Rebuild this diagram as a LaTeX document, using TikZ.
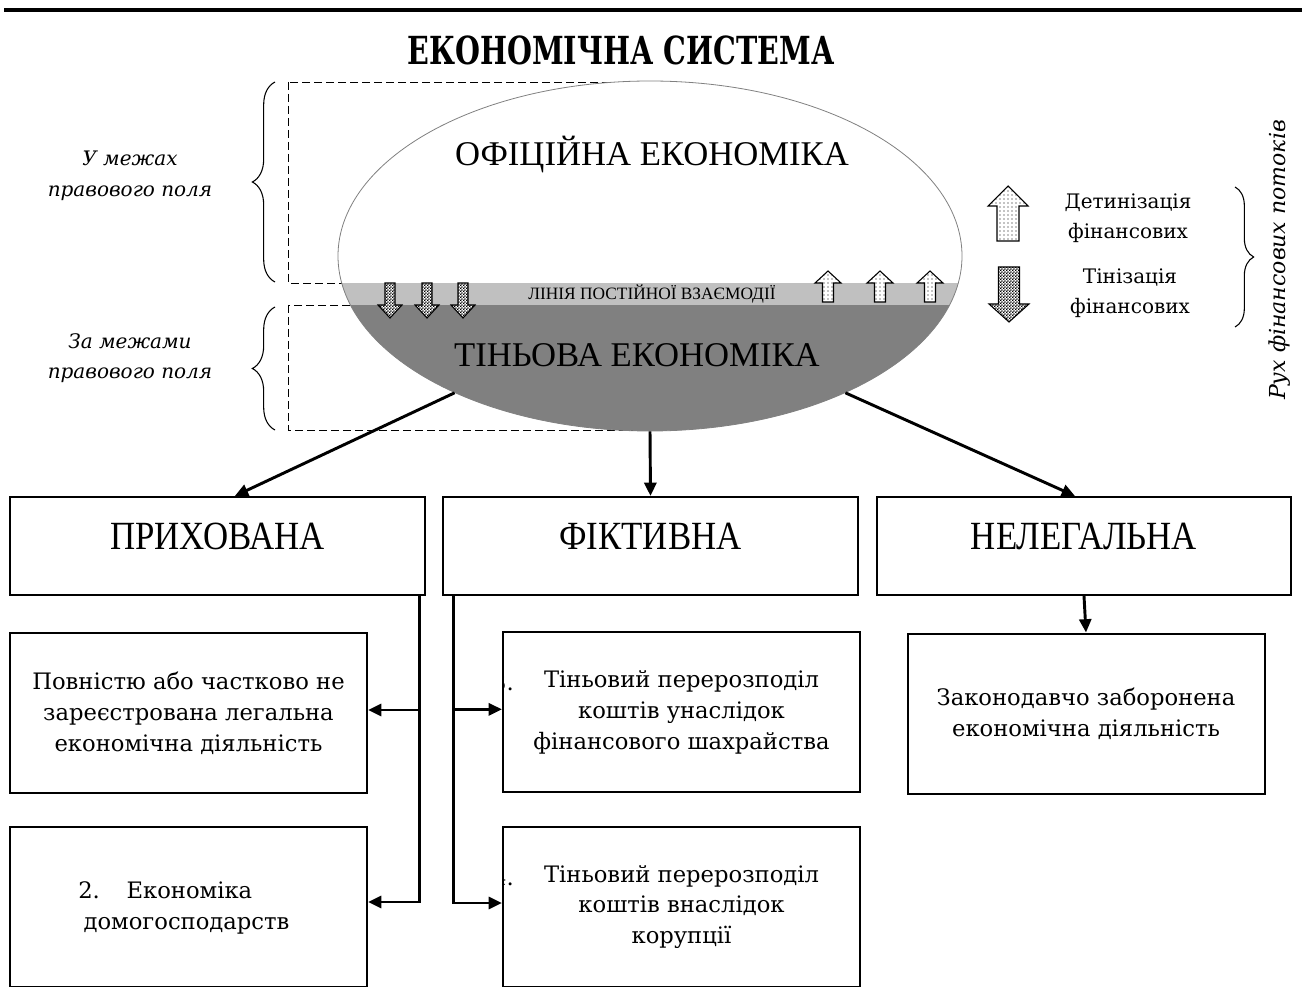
\documentclass[tikz,border=0pt]{standalone}
\usepackage{fontspec}
\usepackage{graphicx}
\setmainfont{DejaVu Serif}
\newfontfamily\timesfont{Liberation Serif}
\usetikzlibrary{shapes.geometric,arrows.meta,decorations.pathreplacing,patterns,positioning}

% block arrow: style, x, base y, half shaft, half head, length, head length
\newcommand{\flowarrow}[7]{%
  \draw[#1] ({#2-#4},#3) -- ({#2-#4},{#3-(#6)+(#7)}) -- ({#2-#5},{#3-(#6)+(#7)})
    -- (#2,{#3-(#6)}) -- ({#2+#5},{#3-(#6)+(#7)}) -- ({#2+#4},{#3-(#6)+(#7)})
    -- ({#2+#4},#3) -- cycle;}
\newcommand{\narrowtxt}[1]{\scalebox{0.87}[1]{#1}}

% fine checker for the shadowing arrows
\pgfdeclarepatternformonly{finecheck}{\pgfqpoint{0pt}{0pt}}{\pgfqpoint{2.4pt}{2.4pt}}{\pgfqpoint{2.4pt}{2.4pt}}{%
  \pgfpathrectangle{\pgfqpoint{0pt}{0pt}}{\pgfqpoint{1.2pt}{1.2pt}}%
  \pgfpathrectangle{\pgfqpoint{1.2pt}{1.2pt}}{\pgfqpoint{1.2pt}{1.2pt}}%
  \pgfusepath{fill}}

\definecolor{bandgray}{HTML}{C0C0C0}
\definecolor{shadegray}{HTML}{808080}

\tikzset{
  conn/.style={line width=2.2pt, -{Triangle[length=10pt,width=9pt]}},
  catbox/.style={draw, line width=1.5pt, minimum width=311pt, minimum height=73.5pt,
    inner sep=0pt, text depth=14pt, font=\timesfont\fontsize{30}{33}\selectfont},
  detbox/.style={draw, line width=1.5pt, minimum width=267.75pt, minimum height=120pt,
    inner sep=2pt, align=center, font=\fontsize{17}{23.2}\selectfont},
  dashbox/.style={draw, line width=0.7pt, dash pattern=on 6pt off 3pt},
  sidebrace/.style={decorate, decoration={brace, amplitude=17pt}, line width=0.8pt},
  upfill/.style={draw=black, line width=0.8pt, preaction={fill=white}, pattern=dots},
  dnfill/.style={draw=black, line width=0.8pt, preaction={fill=white}, pattern=finecheck},
  sidelabel/.style={align=center, font=\itshape\fontsize{15}{22.9}\selectfont},
}

\begin{document}
\begin{tikzpicture}[x=0.75pt,y=-0.75pt]
\useasboundingbox (0,0) rectangle (1302,987);

% top rule and title
\draw[line width=3pt] (4,10) -- (1302,10);
\node (title) at (621,50) {\fontsize{29}{32}\selectfont\bfseries\scalebox{0.74}[1]{ЕКОНОМІЧНА СИСТЕМА}};

% dashed frames behind the ellipse
\draw[dashbox] (288,82) rectangle (650,283);
\draw[dashbox] (288,305) rectangle (650,430);

% ellipse with three bands
\begin{scope}
  \clip (650,256) ellipse [x radius=312, y radius=175];
  \fill[white] (330,70) rectangle (970,283);
  \fill[bandgray] (330,283) rectangle (970,305);
  \fill[shadegray] (330,305) rectangle (970,440);
\end{scope}
\node[ellipse, draw=gray, line width=0.6pt, minimum width=468pt, minimum height=262.5pt, inner sep=0pt] (eco) at (650,256) {};
\node[font=\timesfont\fontsize{26}{28}\selectfont] (ofic) at (652,155) {ОФІЦІЙНА ЕКОНОМІКА};
\node[font=\timesfont\fontsize{26}{28}\selectfont] (shad) at (637,355) {ТІНЬОВА ЕКОНОМІКА};
\node[font=\timesfont\fontsize{13}{15}\selectfont] (line) at (652,294) {ЛІНІЯ ПОСТІЙНОЇ ВЗАЄМОДІЇ};

% flows across the line
\foreach \ax in {390,427,463} {\flowarrow{dnfill}{\ax}{283}{5}{12}{-35}{-13}}
\foreach \ax in {828,880,930} {\flowarrow{upfill}{\ax}{302}{5.5}{13}{31}{12}}

% legend
\flowarrow{upfill}{1008}{241}{11}{20}{55}{20}
\flowarrow{dnfill}{1009}{267}{10.5}{20}{-55}{-18}
\node[align=center, font=\fontsize{15}{22.9}\selectfont] (det) at (1128,218) {Детинізація\\фінансових};
\node[align=center, font=\fontsize{15}{22.9}\selectfont] (tin) at (1130,293) {Тінізація\\фінансових};
\draw[sidebrace, decoration={amplitude=14pt}] (1235,187) -- (1235,327);
\node[rotate=90, font=\itshape\fontsize{16.5}{19}\selectfont] (flow) at (1280,260) {Рух фінансових потоків};

% legal field labels
\draw[sidebrace] (275,282) -- (275,82);
\draw[sidebrace] (275,430) -- (275,307);
\node[sidelabel] (inlaw) at (130,176) {У межах\\правового поля};
\node[sidelabel] (outlaw) at (130,358) {За межами\\правового поля};

% forms of shadow economy
\node[catbox] (hid) at (217.5,546) {\narrowtxt{ПРИХОВАНА}};
\node[catbox] (fict) at (650.5,546) {\narrowtxt{ФІКТИВНА}};
\node[catbox] (illeg) at (1084,546) {\narrowtxt{НЕЛЕГАЛЬНА}};

\draw[conn] (eco.215) -- ([xshift=13pt]hid.north);
\draw[conn] (eco.south) -- (fict.north);
\draw[conn] (eco.325) -- ([xshift=-6.75pt]illeg.north);

% details
\node[detbox] (d1) at (188.5,713) {Повністю або частково не\\зареєстрована легальна\\економічна діяльність};
\node[detbox] (d2) at (188.5,907) {};
\node[align=left, anchor=west, inner sep=0pt, font=\fontsize{17}{23.2}\selectfont] (d2txt) at (78,908)
  {2.\hspace{20pt}Економіка\\\hspace*{4pt}домогосподарств};
\node[detbox] (d3) at (681.5,712) {Тіньовий перерозподіл\\коштів унаслідок\\фінансового шахрайства};
\node[detbox] (d4) at (681.5,907) {Тіньовий перерозподіл\\коштів внаслідок\\корупції};
\node[detbox] (d5) at (1086,713.5) {Законодавчо заборонена\\економічна діяльність};
\begin{scope}
  \clip (d3.south west) rectangle (d3.north east);
  \node[anchor=base east, inner sep=0pt, font=\fontsize{17}{23.2}\selectfont] (n3) at (514,690) {3.};
\end{scope}
\begin{scope}
  \clip (d4.south west) rectangle (d4.north east);
  \node[anchor=base east, inner sep=0pt, font=\fontsize{17}{23.2}\selectfont] (n4) at (514,885) {4.};
\end{scope}

\draw[conn] ([xshift=-4.5pt]hid.south east) |- ([yshift=2.25pt]d1.east);
\draw[conn] ([xshift=-4.5pt]hid.south east) |- ([yshift=3.75pt]d2.east);
\draw[conn] ([xshift=8.25pt]fict.south west) |- ([yshift=2pt]d3.west);
\draw[conn] ([xshift=8.25pt]fict.south west) |- ([yshift=3pt]d4.west);
\draw[conn] (illeg.south) -- (d5.north);
\end{tikzpicture}
\end{document}
